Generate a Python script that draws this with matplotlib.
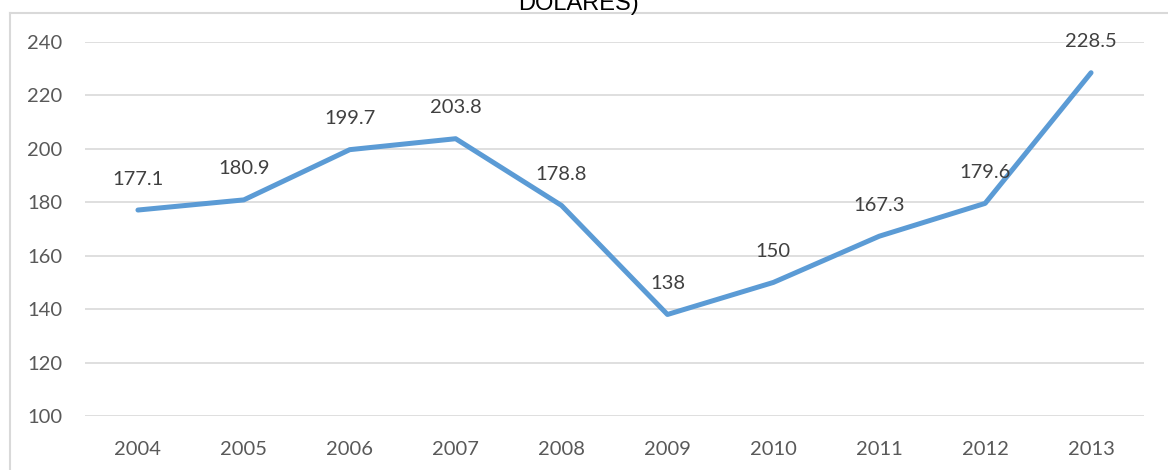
import matplotlib.pyplot as plt
from matplotlib.lines import Line2D

# Yearly values (millions of dollars)
years = ["2004", "2005", "2006", "2007", "2008", "2009", "2010", "2011", "2012", "2013"]
values = [177.1, 180.9, 199.7, 203.8, 178.8, 138, 150, 167.3, 179.6, 228.5]
value_labels = ["177.1", "180.9", "199.7", "203.8", "178.8", "138", "150", "167.3", "179.6", "228.5"]
y_ticks = [100, 120, 140, 160, 180, 200, 220, 240]

line_color = "#5B9BD5"
grid_color = "#D9D9D9"
text_color = "#404040"
tick_color = "#595959"

plt.rcParams["font.family"] = ["Lato", "DejaVu Sans"]

fig = plt.figure(figsize=(11.68, 4.70), dpi=100)
ax = fig.add_axes([85 / 1168, 1 - 416 / 470, 1059 / 1168, 374 / 470])

x = list(range(len(years)))
ax.plot(x, values, color=line_color, lw=3.6,
        solid_capstyle="round", solid_joinstyle="round", zorder=3)

for xi, v, lab in zip(x, values, value_labels):
    ax.annotate(lab, (xi, v), xytext=(0, 22.3), textcoords="offset points",
                ha="center", va="center", fontsize=14.5, color=text_color)

ax.set_xlim(-0.5, len(years) - 0.5)
ax.set_ylim(100, 240)
ax.set_xticks(x)
ax.set_xticklabels(years)
ax.set_yticks(y_ticks)
ax.tick_params(axis="both", length=0, labelsize=14.5, labelcolor=tick_color)
ax.tick_params(axis="y", pad=16.5)
ax.tick_params(axis="x", pad=18)
ax.grid(axis="y", color=grid_color, lw=1.2)
ax.set_axisbelow(True)
for s in ax.spines.values():
    s.set_visible(False)

# chart area border (top and left edges visible)
fig.add_artist(Line2D([10 / 1168, 10 / 1168], [0, 1 - 13 / 470],
                      color=grid_color, lw=1.5, transform=fig.transFigure))
fig.add_artist(Line2D([10 / 1168, 1], [1 - 13 / 470, 1 - 13 / 470],
                      color=grid_color, lw=1.5, transform=fig.transFigure))

# title, only its last line shows at the top edge
fig.text(579 / 1168, 1 - 10 / 470, "DOLARES)", ha="center", va="baseline",
         fontsize=17, color="black", family=["Liberation Sans", "DejaVu Sans"])

fig.savefig("out.png", dpi=100)
